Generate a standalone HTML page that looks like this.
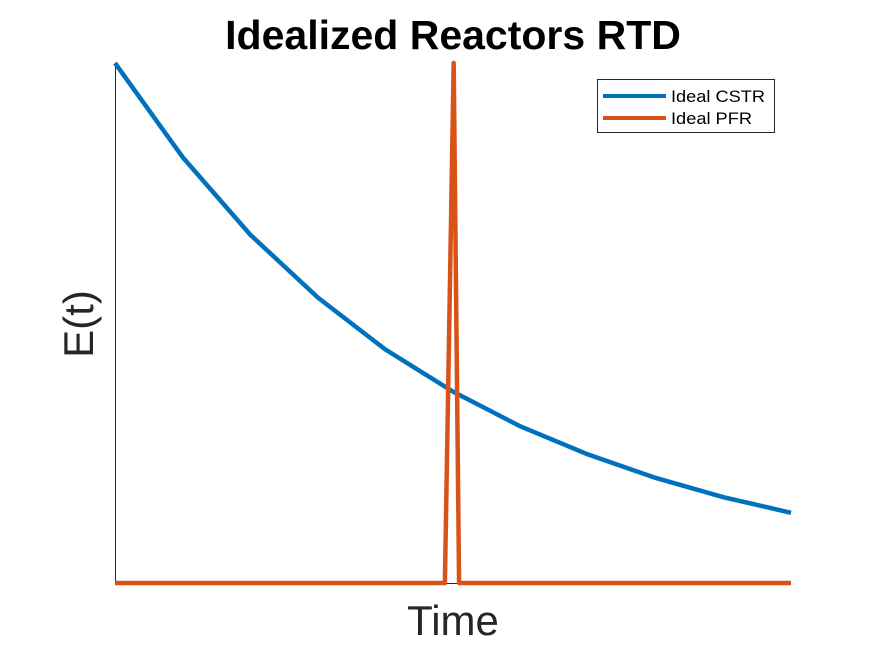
<!DOCTYPE html>
<html><head><meta charset="utf-8"><style>
html,body{margin:0;padding:0;background:#fff;}
svg{display:block;font-family:"Liberation Sans",Arial,sans-serif;}
</style></head><body>
<svg id="chart" width="875" height="656">
<rect width="875" height="656" fill="#fff"/>
<text x="453" y="49" text-anchor="middle" font-size="41" font-weight="bold">Idealized Reactors RTD</text>
<text x="453" y="635" text-anchor="middle" font-size="42" fill="#262626">Time</text>
<text transform="translate(93,324) rotate(-90)" text-anchor="middle" font-size="42" fill="#262626">E(t)</text>
<line x1="115.5" y1="63" x2="115.5" y2="583" stroke="#262626" stroke-width="1"/>
<line x1="115" y1="583.5" x2="791" y2="583.5" stroke="#262626" stroke-width="1"/>
<g id="series"></g>
<g>
<rect x="597.5" y="79.5" width="177" height="53" fill="#fff" stroke="#262626" stroke-width="1"/>
<line x1="603" y1="96" x2="666" y2="96" stroke="#0072BD" stroke-width="4"/>
<text x="671" y="102" font-size="17" textLength="94" lengthAdjust="spacingAndGlyphs">Ideal CSTR</text>
<line x1="603" y1="118" x2="666" y2="118" stroke="#D95319" stroke-width="4"/>
<text x="671" y="124" font-size="17" textLength="81" lengthAdjust="spacingAndGlyphs">Ideal PFR</text>
</g>
</svg>
<script>
const cstrTimes = [0,1,2,3,4,5,6,7,8,9,10];
const cstrValues = [1,0.819,0.670,0.549,0.449,0.368,0.301,0.247,0.202,0.165,0.135];
const pfrTimes = [0,4.88,5.01,5.09,10];
const pfrValues = [0,0,1,0,0];
const xScale = t => 115 + t * (791 - 115) / 10;
const yScale = v => 583 - v * (583 - 63);
const g = document.getElementById('series');
function addLine(ts, vs, color, name) {
  const p = document.createElementNS('http://www.w3.org/2000/svg', 'polyline');
  p.setAttribute('points', ts.map((t, i) => xScale(t) + ',' + yScale(vs[i])).join(' '));
  p.setAttribute('fill', 'none');
  p.setAttribute('stroke', color);
  p.setAttribute('stroke-width', '4.5');
  p.setAttribute('stroke-linejoin', 'round');
  
  
  g.appendChild(p);
}
addLine(cstrTimes, cstrValues, '#0072BD', 'cstr-line');
addLine(pfrTimes, pfrValues, '#D95319', 'pfr-line');
</script>
</body></html>
